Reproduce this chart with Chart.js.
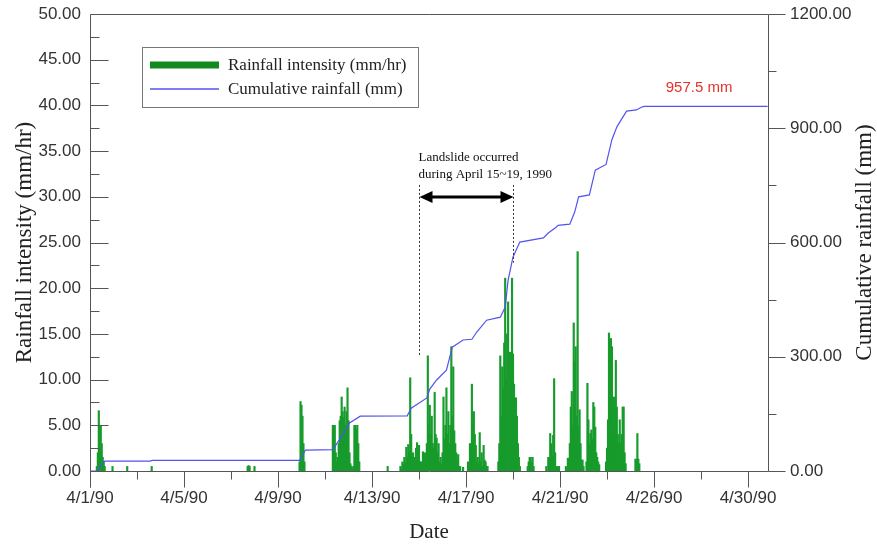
<!DOCTYPE html>
<html>
<head>
<meta charset="utf-8">
<script src="https://cdn.jsdelivr.net/npm/chart.js@4/dist/chart.umd.min.js"></script>
<style>
  html, body { margin: 0; padding: 0; background: #fff; }
</style>
</head>
<body>
<canvas id="rain-chart" width="877" height="547"></canvas>
<script>
// X axis is in hours since 4/1/90 00:00
const dateLabels = ['4/1/90', '4/5/90', '4/9/90', '4/13/90', '4/17/90', '4/21/90', '4/26/90', '4/30/90'];
const dateTickHours = [0, 96, 192, 288, 384, 480, 576, 672];
const lastHour = 692.4;

// Hourly rainfall intensity (mm/hr), one list per rain burst
const burstStartHours = [7, 23, 38, 63, 161, 168, 214, 248, 304, 317, 381, 417, 447, 466, 486, 507, 527, 557];
const burstIntensity = [
  [0.5, 2.0, 6.6, 5.0, 5.0, 3.0, 1.5, 1.0, 0.5],
  [0.5],
  [0.5],
  [0.5],
  [0.5, 0.6, 0.5],
  [0.5],
  [1.0, 7.6, 7.2, 6.0, 3.0, 1.0],
  [5.0, 5.0, 5.0, 2.0, 1.0, 1.5, 3.0, 5.5, 6.0, 8.1, 6.5, 5.8, 7.0, 5.0, 6.5, 9.1, 5.5, 2.0, 0.8, 0.5, 0.3, 0.5, 5.0, 5.0, 4.6, 5.0, 3.0, 1.0],
  [0.5],
  [0.5, 0.3, 1.0, 0.8, 1.5, 1.0, 2.6, 1.5, 2.9, 2.0, 10.2, 4.0, 1.5, 2.0, 0.8, 1.5, 2.5, 3.1, 2.0, 2.8, 1.0, 1.0, 0.5, 2.1, 1.5,
   2.0, 1.0, 3.0, 12.6, 5.0, 7.2, 4.0, 6.0, 3.0, 2.5, 8.6, 4.0, 3.6, 2.0, 3.0, 1.0, 1.5, 0.8, 2.0, 8.1, 3.5, 5.0, 9.1, 4.0, 6.5,
   3.0, 5.0, 13.6, 6.0, 11.4, 4.4, 3.0, 2.0, 1.0, 1.8, 0.5, 0.5],
  [0.4, 0, 0, 0, 0, 1.0, 0.5, 3.0, 1.5, 9.5, 5.0, 6.5, 4.0, 2.8, 1.0, 1.5, 0.8, 4.2, 1.0, 2.0, 0.5, 2.8, 1.2, 1.0, 0.5, 0.5],
  [1.0, 3.0, 12.6, 6.0, 11.4, 9.0, 14.0, 21.1, 10.0, 15.0, 18.5, 11.0, 13.0, 9.0, 21.1, 12.8, 9.5, 8.0, 8.0, 6.0, 3.0, 1.5, 0.5],
  [0.5, 1.0, 1.5, 1.5, 1.0, 1.5, 0.5],
  [0.5, 0, 1.5, 1.5, 4.1, 3.0, 1.5, 3.9, 10.1, 2.0, 0.5, 0, 0.5, 0.5],
  [0.5, 0, 1.4, 1.4, 3.0, 7.0, 8.7, 5.0, 16.2, 12.0, 13.6, 6.0, 24.0, 5.0, 6.7, 3.0, 1.2, 1.2, 0.5],
  [1.0, 9.6, 5.6, 3.0, 4.1, 4.5, 3.5, 7.5, 7.0, 4.8, 2.0, 1.5, 1.0, 0.7],
  [1.0, 2.5, 5.6, 15.1, 10.0, 14.5, 13.6, 6.0, 8.1, 5.0, 12.1, 7.0, 4.0, 3.0, 5.6, 3.0, 4.0, 7.0, 7.0, 2.0, 0.8],
  [1.3, 1.3, 4.1, 1.3, 0.8]
];

// Cumulative rainfall (mm)
const cumHours = [0, 8, 11, 15, 61, 64, 214, 220, 248, 258, 265, 276, 324, 328, 344, 347, 354, 364, 370, 381, 390, 395, 405,
  419, 424, 427, 432, 439, 463, 468, 476, 478, 490, 495, 499, 510, 516, 527, 533, 538, 541, 548, 558, 563, 566, 692];
const cumRainfall = [0, 0, 15, 26, 26, 28, 28, 55, 56, 95, 126, 144, 145, 165, 192, 215, 239, 265, 325, 344, 346, 365, 396,
  404, 430, 501, 562, 601, 612, 625, 640, 645, 648, 680, 720, 725, 790, 805, 870, 903, 916, 945, 948, 955, 957.5, 957.5];

// Landslide period (hours) and label text
const landslideStart = 336;
const landslideEnd = 432;
const landslideText = ['Landslide occurred', 'during April 15~19, 1990'];

const SANS = "'Liberation Sans', Arial, sans-serif";
const SERIF = "'Liberation Serif', 'Times New Roman', serif";

// Build bar points
const intensityPoints = [];
burstStartHours.forEach((start, b) => {
  burstIntensity[b].forEach((v, i) => {
    if (v > 0) intensityPoints.push({ x: start + i, y: v });
  });
});
const cumulativePoints = cumHours.map((h, i) => ({ x: h, y: cumRainfall[i] }));

// Frame, inward/outward ticks, legend and annotations
const decorations = {
  id: 'decorations',
  afterDraw(chart) {
    const { ctx, chartArea: a, scales } = chart;
    const { x, y, y2 } = scales;
    const px = v => Math.round(v) + 0.5;
    ctx.save();
    ctx.strokeStyle = '#555';
    ctx.lineWidth = 1;
    ctx.beginPath();
    // frame
    ctx.moveTo(px(a.left), px(a.top)); ctx.lineTo(px(a.right), px(a.top));
    ctx.moveTo(px(a.left), px(a.top)); ctx.lineTo(px(a.left), px(a.bottom) + 16);
    ctx.moveTo(px(a.right), px(a.top)); ctx.lineTo(px(a.right), px(a.bottom));
    ctx.moveTo(px(a.left), px(a.bottom)); ctx.lineTo(px(a.right), px(a.bottom));
    // left ticks (inward)
    for (let v = 0; v <= 50; v += 2.5) {
      const yy = px(y.getPixelForValue(v));
      ctx.moveTo(px(a.left), yy); ctx.lineTo(px(a.left) + (v % 5 === 0 ? 18 : 9), yy);
    }
    // right ticks (outward)
    for (let v = 0; v <= 1200; v += 150) {
      const yy = px(y2.getPixelForValue(v));
      ctx.moveTo(px(a.right), yy); ctx.lineTo(px(a.right) + (v % 300 === 0 ? 17 : 8), yy);
    }
    // x ticks (down)
    for (let h = 0; h <= 672; h += 48) {
      const xx = px(x.getPixelForValue(h));
      ctx.moveTo(xx, px(a.bottom)); ctx.lineTo(xx, px(a.bottom) + (h % 96 === 0 ? 16 : 8));
    }
    ctx.stroke();

    // right axis title (reads bottom to top)
    ctx.fillStyle = '#222';
    ctx.font = '23px ' + SERIF;
    ctx.textAlign = 'center';
    ctx.textBaseline = 'middle';
    ctx.save();
    ctx.translate(865, (a.top + a.bottom) / 2);
    ctx.rotate(-Math.PI / 2);
    ctx.fillText('Cumulative rainfall (mm)', 0, 0);
    ctx.restore();

    // legend
    const ds = chart.data.datasets;
    ctx.strokeStyle = '#777';
    ctx.strokeRect(142.5, 47.5, 276, 60);
    ctx.lineWidth = 7;
    ctx.strokeStyle = '#13891f';
    ctx.beginPath(); ctx.moveTo(150, 65); ctx.lineTo(219, 65); ctx.stroke();
    ctx.lineWidth = 1.3;
    ctx.strokeStyle = ds[1].borderColor;
    ctx.beginPath(); ctx.moveTo(150, 89); ctx.lineTo(219, 89); ctx.stroke();
    ctx.font = '17px ' + SERIF;
    ctx.textAlign = 'left';
    ctx.fillStyle = '#222';
    ctx.fillText(ds[0].label, 228, 66);
    ctx.fillText(ds[1].label, 228, 90);

    // total label
    const lastX = cumHours[cumHours.length - 1];
    const total = cumRainfall[cumRainfall.length - 1];
    ctx.fillStyle = '#e8302a';
    ctx.font = '15px ' + SANS;
    ctx.textAlign = 'center';
    ctx.fillText(total + ' mm', x.getPixelForValue(lastX - 70), y2.getPixelForValue(total) - 18);

    // landslide annotation
    const xs = px(x.getPixelForValue(landslideStart));
    const xe = px(x.getPixelForValue(landslideEnd));
    const ya = Math.round(y.getPixelForValue(30));
    ctx.strokeStyle = '#333';
    ctx.lineWidth = 1;
    ctx.setLineDash([2, 2]);
    ctx.beginPath();
    ctx.moveTo(xs, y.getPixelForValue(31.3)); ctx.lineTo(xs, y.getPixelForValue(12.5));
    ctx.moveTo(xe, y.getPixelForValue(31.3)); ctx.lineTo(xe, y.getPixelForValue(22.8));
    ctx.stroke();
    ctx.setLineDash([]);
    ctx.strokeStyle = '#000';
    ctx.fillStyle = '#000';
    ctx.lineWidth = 3;
    ctx.beginPath(); ctx.moveTo(xs + 8, ya); ctx.lineTo(xe - 8, ya); ctx.stroke();
    ctx.beginPath();
    ctx.moveTo(xs, ya); ctx.lineTo(xs + 13, ya - 6); ctx.lineTo(xs + 13, ya + 6); ctx.closePath();
    ctx.moveTo(xe, ya); ctx.lineTo(xe - 13, ya - 6); ctx.lineTo(xe - 13, ya + 6); ctx.closePath();
    ctx.fill();
    ctx.font = '13px ' + SERIF;
    ctx.textAlign = 'left';
    ctx.fillStyle = '#111';
    ctx.fillText(landslideText[0], xs - 1, ya - 39);
    ctx.fillText(landslideText[1], xs - 1, ya - 22);
    ctx.restore();
  }
};

// Fix the box sizes so the plot area matches the reference
function fixVertical(width) {
  return scale => {
    scale.width = width;
    scale.paddingTop = 0;
    scale.paddingBottom = 0;
  };
}

new Chart(document.getElementById('rain-chart'), {
  type: 'bar',
  data: {
    datasets: [
      {
        type: 'bar',
        label: 'Rainfall intensity (mm/hr)',
        data: intensityPoints,
        backgroundColor: '#179b2c',
        barThickness: 1.5,
        xAxisID: 'x',
        yAxisID: 'y',
        order: 1
      },
      {
        type: 'line',
        label: 'Cumulative rainfall (mm)',
        data: cumulativePoints,
        borderColor: '#5353ee',
        borderWidth: 1.2,
        pointRadius: 0,
        tension: 0,
        fill: false,
        xAxisID: 'x',
        yAxisID: 'y2',
        order: 0
      }
    ]
  },
  options: {
    responsive: false,
    animation: false,
    devicePixelRatio: 1,
    layout: { padding: { top: 14, left: 0, right: 0, bottom: 0 } },
    plugins: { legend: { display: false }, tooltip: { enabled: false } },
    scales: {
      x: {
        type: 'linear',
        min: 0,
        max: lastHour,
        offset: false,
        grid: { display: false, drawTicks: false },
        border: { display: false },
        afterBuildTicks: scale => { scale.ticks = dateTickHours.map(v => ({ value: v })); },
        afterFit: scale => {
          scale.height = 76;
          scale.paddingLeft = 0;
          scale.paddingRight = 0;
        },
        ticks: {
          autoSkip: false,
          maxRotation: 0,
          padding: 17,
          color: '#333',
          font: { family: SANS, size: 17 },
          callback: v => dateLabels[dateTickHours.indexOf(v)]
        },
        title: {
          display: true,
          text: 'Date',
          color: '#222',
          font: { family: SERIF, size: 21 },
          padding: { top: 4, bottom: 2 }
        }
      },
      y: {
        position: 'left',
        min: 0,
        max: 50,
        grid: { display: false, drawTicks: false },
        border: { display: false },
        afterFit: fixVertical(90),
        ticks: {
          stepSize: 5,
          padding: 9,
          color: '#333',
          font: { family: SANS, size: 17 },
          callback: v => v.toFixed(2)
        },
        title: {
          display: true,
          text: 'Rainfall intensity (mm/hr)',
          color: '#222',
          font: { family: SERIF, size: 23 },
          padding: { top: 11, bottom: 0 }
        }
      },
      y2: {
        position: 'right',
        min: 0,
        max: 1200,
        grid: { display: false, drawTicks: false },
        border: { display: false },
        afterFit: fixVertical(109),
        ticks: {
          stepSize: 300,
          padding: 22,
          color: '#333',
          font: { family: SANS, size: 17 },
          callback: v => v.toFixed(2)
        }
      }
    }
  },
  plugins: [decorations]
});
</script>
</body>
</html>
